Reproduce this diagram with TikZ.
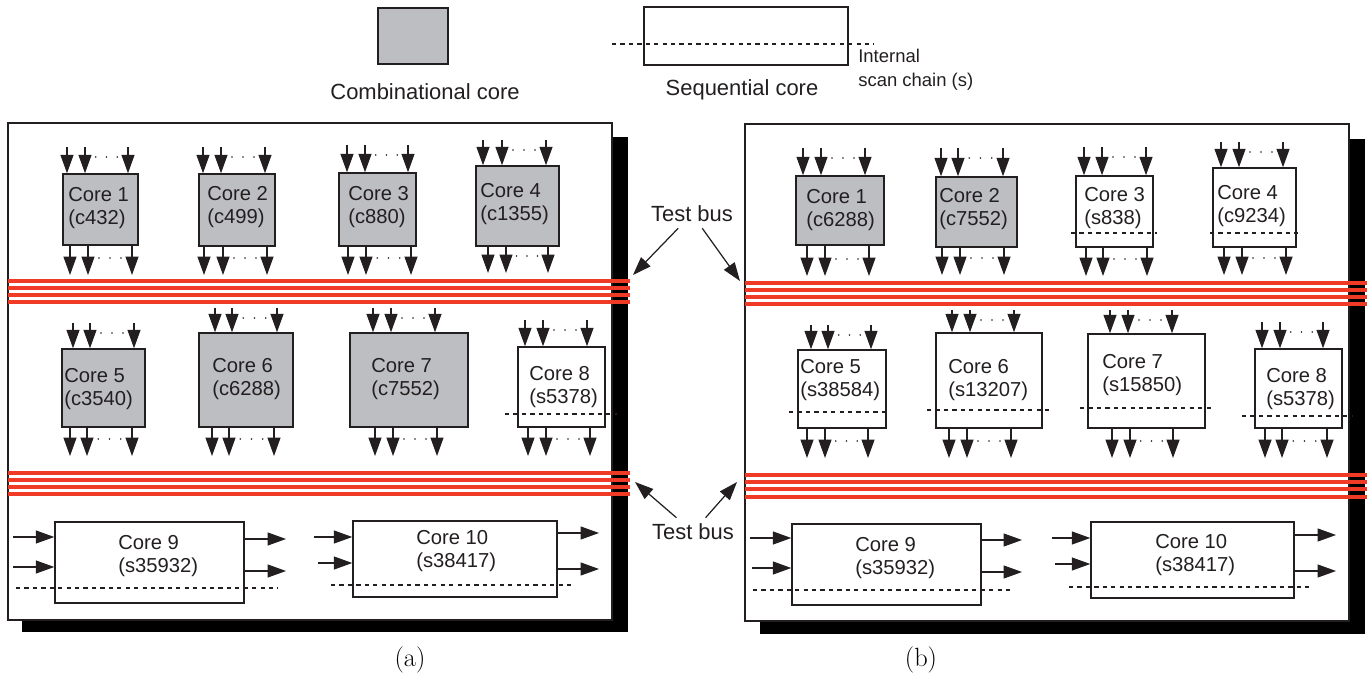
\documentclass[tikz,border=0pt]{standalone}
\usepackage{fontspec}
\newfontfamily\arialfam{Liberation Sans}
\usetikzlibrary{arrows.meta,fit}
\definecolor{ink}{HTML}{231F20}
\definecolor{combgray}{HTML}{BDBEC2}
\definecolor{busred}{HTML}{EF3A26}
\tikzset{
  board/.style={draw=ink, fill=white, line width=1.1pt},
  comb/.style={draw=ink, fill=combgray, line width=0.85pt, inner sep=0pt},
  seq/.style={draw=ink, fill=white, line width=0.85pt, inner sep=0pt},
  wire/.style={->, ink, line width=0.7pt},
  scan/.style={ink, line width=0.6pt, dash pattern=on 2.4pt off 2.4pt},
  bus/.style={busred, line width=2.2pt},
  lbl/.style={anchor=west, align=left, inner sep=0pt, text=ink, font=\arialfam\fontsize{11.5}{13}\selectfont},
  legtext/.style={text=ink, font=\arialfam\fontsize{12.5}{15}\selectfont},
}
\begin{document}
\begin{tikzpicture}[x=0.02cm, y=-0.02cm, >={Triangle[length=10.5pt, width=7.4pt]}]
\useasboundingbox (0,0) rectangle (1372,675);

% legend
\node[comb, fit={(378,8) (448,64)}] (lgc) {};
\node[legtext] (lgct) at (425,92) {Combinational core};
\node[seq, fit={(644,7) (848,65)}] (lgs) {};
\draw[scan] (612,44) -- (874,44);
\node[legtext] (lgst) at (742,90) {Sequential core};
\node[lbl, font=\arialfam\fontsize{10.5}{13.5}\selectfont] (lgi) at (858,70) {Internal\\scan chain (s)};

% boards with drop shadow
\fill (22,137) rectangle (628,632);
\draw[board] (8,123) rectangle (612,620);
\fill (760,139) rectangle (1365,634);
\draw[board] (745,124) rectangle (1349,621);

% test buses
\foreach \y in {281,288,295,302,473,480,487,494}
    \draw[bus] (8,\y) -- (630,\y);
\foreach \y in {283,290,297,304,475,482,489,497}
    \draw[bus] (745,\y) -- (1367,\y);

% cores
\foreach \n/\xa/\ya/\xb/\yb in {a1/63/174/138/245, a2/199/174/275/246, a3/339/173/416/246,
    a4/476/166/559/246, a5/62/349/145/427, a6/199/333/293/427, a7/350/333/468/427,
    b1/796/176/884/245, b2/936/177/1017/247}
    \node[comb, fit={(\xa,\ya) (\xb,\yb)}] (\n) {};
\foreach \n/\xa/\ya/\xb/\yb in {a8/518/347/605/427, a9/55/522/244/603, a10/353/521/557/597,
    b3/1076/176/1153/247, b4/1213/168/1296/247, b5/798/350/886/428, b6/936/333/1042/428,
    b7/1088/334/1205/428, b8/1255/349/1342/428, b9/792/524/981/605, b10/1091/522/1294/598}
    \node[seq, fit={(\xa,\ya) (\xb,\yb)}] (\n) {};

\foreach \n/\x/\y/\k/\c in {a1/68/208/1/c432, a2/207/207/2/c499, a3/348/207/3/c880,
    a4/480/204/4/c1355, a5/64/389/5/c3540, a6/212/379/6/c6288, a7/371/379/7/c7552,
    a8/529/387/8/s5378, a9/118/556/9/s35932, a10/416/551/10/s38417,
    b1/806/210/1/c6288, b2/939/209/2/c7552, b3/1084/208/3/s838, b4/1217/206/4/c9234,
    b5/800/380/5/s38584, b6/948/380/6/s13207, b7/1102/375/7/s15850, b8/1266/389/8/s5378,
    b9/855/558/9/s35932, b10/1155/555/10/s38417}
    \node[lbl] (t\n) at (\x,\y) {Core \k\\(\c)};

% scan chains
\foreach \y/\xa/\xb in {414/505/617, 588/16/278, 585/331/571, 233/1071/1157, 233/1210/1298,
    412/789/888, 410/927/1050, 408/1080/1213, 416/1242/1353, 590/753/1014, 587/1069/1309}
    \draw[scan] (\xa,\y) -- (\xb,\y);

% primary inputs
\foreach \n/\xa/\xb/\xc/\ys in {a1/67/85/128/147, a2/203/221/265/147, a3/347/365/408/145,
    a4/483/502/546/140, a5/73/90/134/323, a6/215/232/277/308, a7/373/391/435/308,
    a8/525/543/587/320, b1/803/821/865/148, b2/941/958/1003/148, b3/1084/1102/1146/147,
    b4/1221/1239/1283/142, b5/811/828/871/325, b6/952/970/1014/310, b7/1110/1128/1172/310,
    b8/1262/1280/1323/322}
{
    \foreach \x in {\xa,\xb,\xc}
        \draw[wire] (\x,\ys) -- (\n.north -| \x,0);
    \foreach \k in {1,2,3}
        \fill[ink] ({\xb+\k*(\xc-\xb)/4},\ys+10) circle[radius=0.5pt];
}
% primary outputs
\foreach \n/\xa/\xb/\xc/\ye in {a1/70/88/132/275, a2/204/223/267/275, a3/348/366/411/275,
    a4/488/506/548/273, a5/70/87/132/456, a6/212/229/274/456, a7/375/393/437/456,
    a8/528/546/590/456, b1/807/825/869/276, b2/942/960/1004/275, b3/1086/1103/1147/276,
    b4/1224/1242/1286/275, b5/807/825/868/458, b6/949/967/1011/458, b7/1112/1130/1173/458,
    b8/1265/1282/1327/458}
{
    \foreach \x in {\xa,\xb,\xc}
        \draw[wire] (\n.south -| \x,0) -- (\x,\ye);
    \foreach \k in {1,2,3}
        \fill[ink] ({\xb+\k*(\xc-\xb)/4},\ye-17) circle[radius=0.5pt];
}

% side pins of the large cores
\foreach \n/\xs/\y in {a9/13/537, a9/13/567, a10/314/537, a10/318/563,
    b9/750/538, b9/752/568, b10/1052/538, b10/1055/564}
    \draw[wire] (\xs,\y) -- (\n.west |- 0,\y);
\foreach \n/\xe/\y in {a9/286/539, a9/286/571, a10/599/533, a10/599/569,
    b9/1022/540, b9/1022/572, b10/1336/535, b10/1336/571}
    \draw[wire] (\n.east |- 0,\y) -- (\xe,\y);

% bus labels
\node[legtext] (tb1) at (692,214) {Test bus};
\coordinate (tb1l) at (633,275);
\coordinate (tb1r) at (740,281);
\draw[wire] (tb1) -- (tb1l);
\draw[wire] (tb1) -- (tb1r);
\node[legtext] (tb2) at (693,532) {Test bus};
\coordinate (tb2l) at (635,482);
\coordinate (tb2r) at (737,482);
\draw[wire] (tb2) -- (tb2l);
\draw[wire] (tb2) -- (tb2r);

\node[font=\fontsize{15}{17}\selectfont] (capa) at (410,660) {(a)};
\node[font=\fontsize{15}{17}\selectfont] (capb) at (921,660) {(b)};
\end{tikzpicture}
\end{document}
